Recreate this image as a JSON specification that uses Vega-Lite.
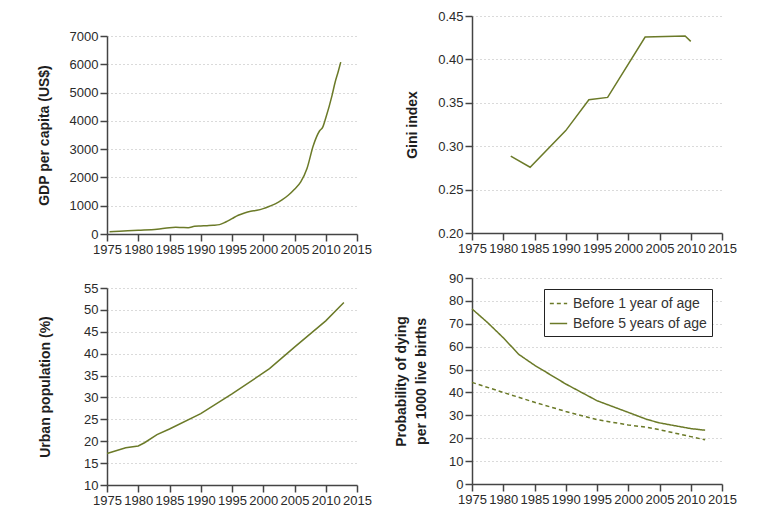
{
  "$schema": "https://vega.github.io/schema/vega-lite/v6.json",
  "padding": {"left": 36, "top": 10, "right": 0, "bottom": 0},
  "background": "white",
  "resolve": {"legend": {"strokeDash": "independent"}, "scale": {"strokeDash": "independent"}},
  "config": {
    "view": {"stroke": null},
    "font": "Liberation Sans",
    "axis": {
      "labelFont": "Liberation Sans",
      "labelFontSize": 13,
      "labelColor": "#2a2a2a",
      "titleFont": "Liberation Sans",
      "titleFontSize": 14,
      "titleFontWeight": "bold",
      "titleColor": "#1e1e1e",
      "domainColor": "#444444",
      "domainWidth": 1.5,
      "tickColor": "#444444",
      "tickWidth": 1.5,
      "tickSize": 7,
      "labelPadding": 2,
      "labelOverlap": false,
      "labelFlush": false,
      "gridColor": "#b5b5b5",
      "gridDash": [1, 3],
      "gridWidth": 1
    },
    "axisX": {"grid": false, "title": null},
    "line": {"color": "#6b7a28", "strokeWidth": 1.5}
  },
  "datasets": {
    "gdp": [
      {"year": 1975.4, "value": 83},
      {"year": 1977, "value": 100},
      {"year": 1980, "value": 130},
      {"year": 1983, "value": 165},
      {"year": 1985, "value": 225},
      {"year": 1986, "value": 236},
      {"year": 1987, "value": 230},
      {"year": 1988, "value": 225},
      {"year": 1989, "value": 272},
      {"year": 1990, "value": 284},
      {"year": 1991, "value": 295},
      {"year": 1992, "value": 307},
      {"year": 1993, "value": 331},
      {"year": 1994, "value": 425},
      {"year": 1995, "value": 544},
      {"year": 1996, "value": 662},
      {"year": 1997, "value": 745},
      {"year": 1998, "value": 804},
      {"year": 1999, "value": 839},
      {"year": 2000, "value": 898},
      {"year": 2001, "value": 981},
      {"year": 2002, "value": 1076},
      {"year": 2003, "value": 1206},
      {"year": 2004, "value": 1371},
      {"year": 2005, "value": 1584},
      {"year": 2006, "value": 1844},
      {"year": 2007, "value": 2317},
      {"year": 2008, "value": 3121},
      {"year": 2009, "value": 3641},
      {"year": 2009.5, "value": 3771},
      {"year": 2010, "value": 4102},
      {"year": 2011, "value": 4894},
      {"year": 2011.5, "value": 5366},
      {"year": 2012, "value": 5745},
      {"year": 2012.4, "value": 6076}
    ],
    "gini": [
      {"year": 1981.2, "value": 0.2885},
      {"year": 1984.3, "value": 0.2758},
      {"year": 1990.0, "value": 0.318},
      {"year": 1993.7, "value": 0.3535},
      {"year": 1996.7, "value": 0.3562},
      {"year": 2002.7, "value": 0.4258},
      {"year": 2009.1, "value": 0.4269},
      {"year": 2010.0, "value": 0.4208}
    ],
    "urban": [
      {"year": 1975, "value": 17.2},
      {"year": 1978, "value": 18.5},
      {"year": 1980, "value": 18.9},
      {"year": 1981, "value": 19.65},
      {"year": 1983, "value": 21.5},
      {"year": 1985, "value": 22.8},
      {"year": 1990, "value": 26.3},
      {"year": 1995, "value": 30.8},
      {"year": 2000, "value": 35.6},
      {"year": 2001, "value": 36.6},
      {"year": 2005, "value": 41.5},
      {"year": 2010, "value": 47.5},
      {"year": 2012.9, "value": 51.7}
    ],
    "mort": [
      {"year": 1975, "value": 44.4, "series": "Before 1 year of age"},
      {"year": 1980, "value": 40.0, "series": "Before 1 year of age"},
      {"year": 1985, "value": 35.7, "series": "Before 1 year of age"},
      {"year": 1990, "value": 31.7, "series": "Before 1 year of age"},
      {"year": 1995, "value": 28.1, "series": "Before 1 year of age"},
      {"year": 2000, "value": 25.8, "series": "Before 1 year of age"},
      {"year": 2003, "value": 24.8, "series": "Before 1 year of age"},
      {"year": 2005, "value": 23.7, "series": "Before 1 year of age"},
      {"year": 2010, "value": 20.7, "series": "Before 1 year of age"},
      {"year": 2012.3, "value": 19.3, "series": "Before 1 year of age"},
      {"year": 1975, "value": 76.5, "series": "Before 5 years of age"},
      {"year": 1977.5, "value": 70.5, "series": "Before 5 years of age"},
      {"year": 1980, "value": 63.9, "series": "Before 5 years of age"},
      {"year": 1982.5, "value": 56.6, "series": "Before 5 years of age"},
      {"year": 1985, "value": 51.9, "series": "Before 5 years of age"},
      {"year": 1990, "value": 43.7, "series": "Before 5 years of age"},
      {"year": 1995, "value": 36.4, "series": "Before 5 years of age"},
      {"year": 2000, "value": 31.3, "series": "Before 5 years of age"},
      {"year": 2003, "value": 28.2, "series": "Before 5 years of age"},
      {"year": 2005, "value": 26.7, "series": "Before 5 years of age"},
      {"year": 2010, "value": 24.2, "series": "Before 5 years of age"},
      {"year": 2012.3, "value": 23.5, "series": "Before 5 years of age"}
    ]
  },
  "spacing": 21,
  "hconcat": [
    {
      "bounds": "flush",
      "spacing": 0,
      "vconcat": [
        {
          "width": 250,
          "height": 20,
          "data": {"name": "gini"},
          "mark": {"type": "point", "opacity": 0},
          "encoding": {}
        },
        {
          "bounds": "flush",
          "spacing": 54,
          "vconcat": [
            {
              "width": 250,
              "height": 198,
              "data": {"name": "gdp"},
              "mark": {"type": "line", "interpolate": "monotone"},
              "encoding": {
                "x": {"field": "year", "type": "quantitative", "scale": {"domain": [1975, 2015], "nice": false, "zero": false},
                      "axis": {"values": [1975, 1980, 1985, 1990, 1995, 2000, 2005, 2010, 2015], "format": "d"}},
                "y": {"field": "value", "type": "quantitative", "scale": {"domain": [0, 7000], "nice": false},
                      "axis": {"title": "GDP per capita (US$)", "values": [0, 1000, 2000, 3000, 4000, 5000, 6000, 7000], "format": "d",
                               "titleX": -59, "titleY": 99, "titleAlign": "center", "titleBaseline": "alphabetic"}}
              }
            },
            {
              "width": 250,
              "height": 197,
              "data": {"name": "urban"},
              "mark": {"type": "line"},
              "encoding": {
                "x": {"field": "year", "type": "quantitative", "scale": {"domain": [1975, 2015], "nice": false, "zero": false},
                      "axis": {"values": [1975, 1980, 1985, 1990, 1995, 2000, 2005, 2010, 2015], "format": "d"}},
                "y": {"field": "value", "type": "quantitative", "scale": {"domain": [10, 55], "nice": false, "zero": false},
                      "axis": {"title": "Urban population (%)", "values": [10, 15, 20, 25, 30, 35, 40, 45, 50, 55],
                               "titleX": -58, "titleY": 98.5, "titleAlign": "center", "titleBaseline": "alphabetic"}}
              }
            }
          ]
        }
      ]
    },
    {
      "bounds": "flush",
      "spacing": 45,
      "resolve": {"legend": {"strokeDash": "independent"}, "scale": {"strokeDash": "independent"}},
      "vconcat": [
        {
          "width": 250,
          "height": 217,
          "data": {"name": "gini"},
          "mark": {"type": "line"},
          "encoding": {
            "x": {"field": "year", "type": "quantitative", "scale": {"domain": [1975, 2015], "nice": false, "zero": false},
                  "axis": {"values": [1975, 1980, 1985, 1990, 1995, 2000, 2005, 2010, 2015], "format": "d"}},
            "y": {"field": "value", "type": "quantitative", "scale": {"domain": [0.2, 0.45], "nice": false, "zero": false},
                  "axis": {"title": "Gini index", "values": [0.2, 0.25, 0.3, 0.35, 0.4, 0.45], "format": ".2f",
                           "titleX": -56, "titleY": 108.5, "titleAlign": "center", "titleBaseline": "alphabetic"}}
          }
        },
        {
          "width": 250,
          "height": 206,
          "data": {"name": "mort"},
          "mark": {"type": "line"},
          "encoding": {
            "x": {"field": "year", "type": "quantitative", "scale": {"domain": [1975, 2015], "nice": false, "zero": false},
                  "axis": {"values": [1975, 1980, 1985, 1990, 1995, 2000, 2005, 2010, 2015], "format": "d"}},
            "y": {"field": "value", "type": "quantitative", "scale": {"domain": [0, 90], "nice": false},
                  "axis": {"title": ["Probability of dying", "per 1000 live births"], "values": [0, 10, 20, 30, 40, 50, 60, 70, 80, 90],
                           "titleX": -67, "titleY": 103, "titleAlign": "center", "titleBaseline": "alphabetic", "titleLineHeight": 20}},
            "strokeDash": {"field": "series", "type": "nominal",
                           "scale": {"domain": ["Before 1 year of age", "Before 5 years of age"], "range": [[4, 3], [1, 0]]},
                           "legend": {"title": null, "orient": "none", "legendX": 72, "legendY": 11,
                                      "strokeColor": "#222222", "padding": 5, "rowPadding": 3,
                                      "labelFont": "Liberation Sans", "labelFontSize": 14, "labelColor": "#333333",
                                      "symbolType": "stroke", "symbolSize": 300, "symbolStrokeWidth": 1.5,
                                      "symbolStrokeColor": "#6b7a28", "labelOffset": 5, "fillColor": "white"}}
          }
        }
      ]
    }
  ]
}
